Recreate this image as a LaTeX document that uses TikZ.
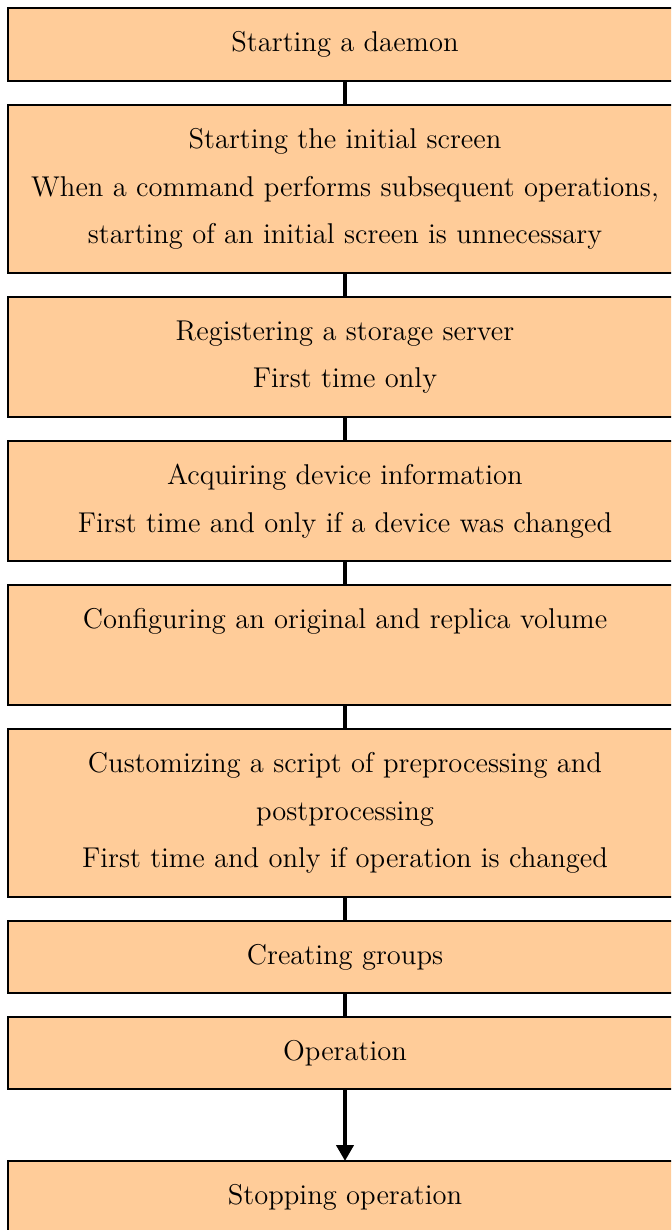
\documentclass[tikz,border=0pt]{standalone}
\usepackage{tikz}
\usepackage{xcolor}
\usetikzlibrary{positioning, arrows.meta}

\definecolor{boxpeach}{HTML}{FFCC99}

\begin{document}
\begin{tikzpicture}[
    % Custom styles for the process boxes and the links between them
    stepbox/.style={
        draw=black, line width=0.8pt, fill=boxpeach,
        minimum width=337pt, minimum height=36.5pt,
        inner sep=2pt, outer sep=0pt, align=center,
        font=\fontsize{14.3pt}{23.75pt}\selectfont
    },
    twoline/.style={stepbox, minimum height=60pt},
    threeline/.style={stepbox, minimum height=84pt},
    link/.style={line width=2pt},
    flow_arrow/.style={line width=2pt, -{Triangle[width=8.5pt,length=8pt]}},
    node distance=12pt
]

% Page frame (the boxes run past the right and bottom edge)
\useasboundingbox (0,0) rectangle (335.5pt,-615pt);
\clip (0,0) rectangle (335.5pt,-615pt);

% ==========================================
% THE STEPS (stacked from top to bottom)
% ==========================================
% 1. First box placed at a coordinate
\node[stepbox, anchor=north west] (start_daemon) at (4pt,-4pt) {Starting a daemon};

% 2. All others placed below the previous one
\node[threeline, below=of start_daemon] (init_screen) {Starting the initial screen\\
    When a command performs subsequent operations,\\
    starting of an initial screen is unnecessary};
\node[twoline, below=of init_screen] (reg_server) {Registering a storage server\\ First time only};
\node[twoline, below=of reg_server] (acq_info) {Acquiring device information\\
    First time and only if a device was changed};
\node[twoline, below=of acq_info] (conf_volume) {Configuring an original and replica volume\\ \vphantom{y}};
\node[threeline, below=of conf_volume] (cust_script) {Customizing a script of preprocessing and\\
    postprocessing\\
    First time and only if operation is changed};
\node[stepbox, minimum height=36pt, below=of cust_script] (create_groups) {Creating groups};
\node[stepbox, minimum height=36pt, below=of create_groups] (operation) {Operation};

% 3. Last box, further down
\node[stepbox, below=36pt of operation] (stop_op) {Stopping operation};

% ==========================================
% THE LINKS
% ==========================================
\draw[link] (start_daemon) -- (init_screen);
\draw[link] (init_screen) -- (reg_server);
\draw[link] (reg_server) -- (acq_info);
\draw[link] (acq_info) -- (conf_volume);
\draw[link] (conf_volume) -- (cust_script);
\draw[link] (cust_script) -- (create_groups);
\draw[link] (create_groups) -- (operation);
% Arrow into the final step
\draw[flow_arrow] (operation) -- (stop_op);

\end{tikzpicture}
\end{document}
